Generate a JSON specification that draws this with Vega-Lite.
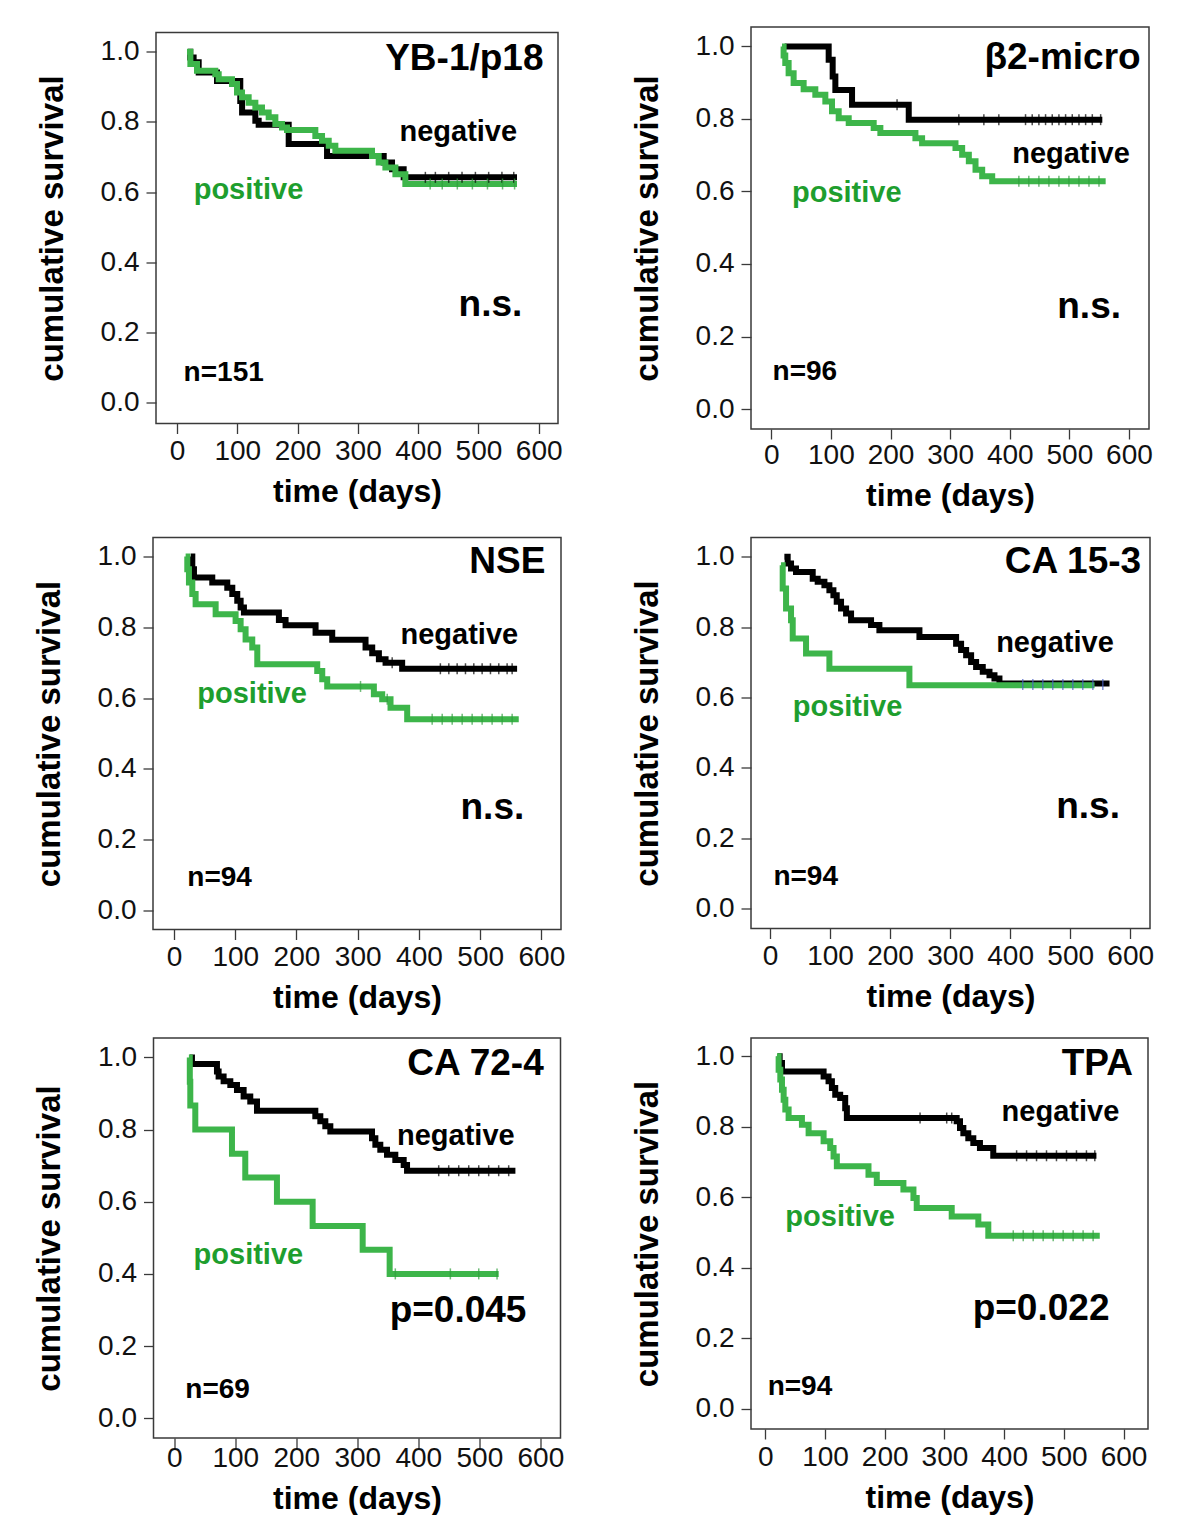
{
  "$schema": "https://vega.github.io/schema/vega-lite/v6.json",
  "background": "white",
  "padding": {"left": 32, "top": 26, "right": 0, "bottom": 0},
  "datasets": {
    "curves": [
      {"p":"YB-1/p18","g":"negative","t":18.3,"s":1.0},{"p":"YB-1/p18","g":"negative","t":22,"s":0.984},{"p":"YB-1/p18","g":"negative","t":27.6,"s":0.97},{"p":"YB-1/p18","g":"negative","t":36,"s":0.941},{"p":"YB-1/p18","g":"negative","t":66.4,"s":0.917},{"p":"YB-1/p18","g":"negative","t":105,"s":0.86},{"p":"YB-1/p18","g":"negative","t":108,"s":0.827},{"p":"YB-1/p18","g":"negative","t":130,"s":0.803},{"p":"YB-1/p18","g":"negative","t":135.5,"s":0.792},{"p":"YB-1/p18","g":"negative","t":185.3,"s":0.737},{"p":"YB-1/p18","g":"negative","t":248.9,"s":0.703},{"p":"YB-1/p18","g":"negative","t":342.9,"s":0.684},{"p":"YB-1/p18","g":"negative","t":356.7,"s":0.665},{"p":"YB-1/p18","g":"negative","t":376,"s":0.642},{"p":"YB-1/p18","g":"negative","t":564,"s":0.642},
      {"p":"YB-1/p18","g":"positive","t":16.6,"s":1.0},{"p":"YB-1/p18","g":"positive","t":22.2,"s":0.965},{"p":"YB-1/p18","g":"positive","t":33.2,"s":0.946},{"p":"YB-1/p18","g":"positive","t":63.6,"s":0.936},{"p":"YB-1/p18","g":"positive","t":69.2,"s":0.922},{"p":"YB-1/p18","g":"positive","t":91.3,"s":0.908},{"p":"YB-1/p18","g":"positive","t":99.6,"s":0.884},{"p":"YB-1/p18","g":"positive","t":107.9,"s":0.87},{"p":"YB-1/p18","g":"positive","t":118.9,"s":0.855},{"p":"YB-1/p18","g":"positive","t":130,"s":0.841},{"p":"YB-1/p18","g":"positive","t":141,"s":0.827},{"p":"YB-1/p18","g":"positive","t":152.1,"s":0.813},{"p":"YB-1/p18","g":"positive","t":163.2,"s":0.794},{"p":"YB-1/p18","g":"positive","t":174.2,"s":0.784},{"p":"YB-1/p18","g":"positive","t":182.5,"s":0.777},{"p":"YB-1/p18","g":"positive","t":229.5,"s":0.76},{"p":"YB-1/p18","g":"positive","t":240.6,"s":0.746},{"p":"YB-1/p18","g":"positive","t":251.7,"s":0.732},{"p":"YB-1/p18","g":"positive","t":262.7,"s":0.718},{"p":"YB-1/p18","g":"positive","t":323.5,"s":0.703},{"p":"YB-1/p18","g":"positive","t":334.6,"s":0.684},{"p":"YB-1/p18","g":"positive","t":345.7,"s":0.67},{"p":"YB-1/p18","g":"positive","t":362.3,"s":0.651},{"p":"YB-1/p18","g":"positive","t":378.8,"s":0.623},{"p":"YB-1/p18","g":"positive","t":564,"s":0.623},

      {"p":"b2","g":"negative","t":22.4,"s":1.0},{"p":"b2","g":"negative","t":96.3,"s":0.963},{"p":"b2","g":"negative","t":103,"s":0.917},{"p":"b2","g":"negative","t":107.5,"s":0.88},{"p":"b2","g":"negative","t":135.5,"s":0.839},{"p":"b2","g":"negative","t":230.6,"s":0.798},{"p":"b2","g":"negative","t":555.3,"s":0.798},
      {"p":"b2","g":"positive","t":18,"s":1.0},{"p":"b2","g":"positive","t":20.7,"s":0.975},{"p":"b2","g":"positive","t":23.5,"s":0.954},{"p":"b2","g":"positive","t":29.1,"s":0.926},{"p":"b2","g":"positive","t":37.5,"s":0.899},{"p":"b2","g":"positive","t":54.3,"s":0.882},{"p":"b2","g":"positive","t":73.9,"s":0.867},{"p":"b2","g":"positive","t":90.7,"s":0.848},{"p":"b2","g":"positive","t":101.9,"s":0.821},{"p":"b2","g":"positive","t":113.1,"s":0.802},{"p":"b2","g":"positive","t":129.9,"s":0.789},{"p":"b2","g":"positive","t":171.8,"s":0.775},{"p":"b2","g":"positive","t":183,"s":0.761},{"p":"b2","g":"positive","t":241.8,"s":0.747},{"p":"b2","g":"positive","t":253,"s":0.733},{"p":"b2","g":"positive","t":309,"s":0.72},{"p":"b2","g":"positive","t":320.2,"s":0.701},{"p":"b2","g":"positive","t":331.4,"s":0.683},{"p":"b2","g":"positive","t":342.6,"s":0.66},{"p":"b2","g":"positive","t":353.8,"s":0.642},{"p":"b2","g":"positive","t":370.6,"s":0.628},{"p":"b2","g":"positive","t":560.9,"s":0.628},

      {"p":"NSE","g":"negative","t":27.2,"s":1.0},{"p":"NSE","g":"negative","t":29.9,"s":0.964},{"p":"NSE","g":"negative","t":32.6,"s":0.941},{"p":"NSE","g":"negative","t":62.5,"s":0.927},{"p":"NSE","g":"negative","t":87,"s":0.912},{"p":"NSE","g":"negative","t":95.2,"s":0.894},{"p":"NSE","g":"negative","t":103.3,"s":0.875},{"p":"NSE","g":"negative","t":108.8,"s":0.856},{"p":"NSE","g":"negative","t":114.2,"s":0.842},{"p":"NSE","g":"negative","t":171.3,"s":0.821},{"p":"NSE","g":"negative","t":182.2,"s":0.806},{"p":"NSE","g":"negative","t":231.2,"s":0.785},{"p":"NSE","g":"negative","t":258.4,"s":0.765},{"p":"NSE","g":"negative","t":312.8,"s":0.743},{"p":"NSE","g":"negative","t":323.7,"s":0.727},{"p":"NSE","g":"negative","t":334.6,"s":0.71},{"p":"NSE","g":"negative","t":345.5,"s":0.7},{"p":"NSE","g":"negative","t":372.6,"s":0.683},{"p":"NSE","g":"negative","t":560.3,"s":0.683},
      {"p":"NSE","g":"positive","t":19,"s":1.0},{"p":"NSE","g":"positive","t":21.7,"s":0.964},{"p":"NSE","g":"positive","t":24.4,"s":0.927},{"p":"NSE","g":"positive","t":29.9,"s":0.894},{"p":"NSE","g":"positive","t":35.3,"s":0.865},{"p":"NSE","g":"positive","t":68,"s":0.837},{"p":"NSE","g":"positive","t":100.6,"s":0.818},{"p":"NSE","g":"positive","t":108.8,"s":0.795},{"p":"NSE","g":"positive","t":116.9,"s":0.766},{"p":"NSE","g":"positive","t":127.8,"s":0.743},{"p":"NSE","g":"positive","t":136,"s":0.696},{"p":"NSE","g":"positive","t":233.9,"s":0.677},{"p":"NSE","g":"positive","t":242.1,"s":0.653},{"p":"NSE","g":"positive","t":250.2,"s":0.633},{"p":"NSE","g":"positive","t":326.4,"s":0.611},{"p":"NSE","g":"positive","t":340,"s":0.597},{"p":"NSE","g":"positive","t":353.6,"s":0.573},{"p":"NSE","g":"positive","t":380.8,"s":0.54},{"p":"NSE","g":"positive","t":563,"s":0.54},

      {"p":"CA153","g":"negative","t":23.9,"s":1.0},{"p":"CA153","g":"negative","t":29.4,"s":0.981},{"p":"CA153","g":"negative","t":35,"s":0.967},{"p":"CA153","g":"negative","t":43.3,"s":0.957},{"p":"CA153","g":"negative","t":71.1,"s":0.938},{"p":"CA153","g":"negative","t":79.4,"s":0.929},{"p":"CA153","g":"negative","t":90.6,"s":0.919},{"p":"CA153","g":"negative","t":98.9,"s":0.905},{"p":"CA153","g":"negative","t":105.6,"s":0.891},{"p":"CA153","g":"negative","t":111.1,"s":0.872},{"p":"CA153","g":"negative","t":118.3,"s":0.853},{"p":"CA153","g":"negative","t":126.7,"s":0.839},{"p":"CA153","g":"negative","t":135,"s":0.82},{"p":"CA153","g":"negative","t":168.3,"s":0.806},{"p":"CA153","g":"negative","t":182.2,"s":0.791},{"p":"CA153","g":"negative","t":248.9,"s":0.772},{"p":"CA153","g":"negative","t":310,"s":0.753},{"p":"CA153","g":"negative","t":318.3,"s":0.735},{"p":"CA153","g":"negative","t":326.7,"s":0.72},{"p":"CA153","g":"negative","t":335,"s":0.701},{"p":"CA153","g":"negative","t":343.3,"s":0.687},{"p":"CA153","g":"negative","t":354.4,"s":0.673},{"p":"CA153","g":"negative","t":365.6,"s":0.663},{"p":"CA153","g":"negative","t":373.9,"s":0.654},{"p":"CA153","g":"negative","t":382.2,"s":0.64},{"p":"CA153","g":"negative","t":565.6,"s":0.64},
      {"p":"CA153","g":"positive","t":18.3,"s":0.976},{"p":"CA153","g":"positive","t":21.1,"s":0.91},{"p":"CA153","g":"positive","t":26.7,"s":0.853},{"p":"CA153","g":"positive","t":35,"s":0.82},{"p":"CA153","g":"positive","t":37.8,"s":0.768},{"p":"CA153","g":"positive","t":60,"s":0.725},{"p":"CA153","g":"positive","t":98.9,"s":0.682},{"p":"CA153","g":"positive","t":232.2,"s":0.635},{"p":"CA153","g":"positive","t":540.6,"s":0.635},

      {"p":"CA724","g":"negative","t":25.2,"s":1.0},{"p":"CA724","g":"negative","t":29,"s":0.982},{"p":"CA724","g":"negative","t":70,"s":0.961},{"p":"CA724","g":"negative","t":72.7,"s":0.947},{"p":"CA724","g":"negative","t":80.9,"s":0.934},{"p":"CA724","g":"negative","t":91.9,"s":0.924},{"p":"CA724","g":"negative","t":102.8,"s":0.91},{"p":"CA724","g":"negative","t":113.7,"s":0.892},{"p":"CA724","g":"negative","t":124.6,"s":0.878},{"p":"CA724","g":"negative","t":135.6,"s":0.852},{"p":"CA724","g":"negative","t":231.2,"s":0.837},{"p":"CA724","g":"negative","t":239.4,"s":0.823},{"p":"CA724","g":"negative","t":247.6,"s":0.809},{"p":"CA724","g":"negative","t":255.8,"s":0.795},{"p":"CA724","g":"negative","t":324.1,"s":0.776},{"p":"CA724","g":"negative","t":329.6,"s":0.758},{"p":"CA724","g":"negative","t":337.7,"s":0.744},{"p":"CA724","g":"negative","t":348.7,"s":0.73},{"p":"CA724","g":"negative","t":362.3,"s":0.716},{"p":"CA724","g":"negative","t":376,"s":0.702},{"p":"CA724","g":"negative","t":381.5,"s":0.686},{"p":"CA724","g":"negative","t":559.1,"s":0.686},
      {"p":"CA724","g":"positive","t":24,"s":1.0},{"p":"CA724","g":"positive","t":25.5,"s":0.933},{"p":"CA724","g":"positive","t":26.3,"s":0.867},{"p":"CA724","g":"positive","t":34.5,"s":0.8},{"p":"CA724","g":"positive","t":94.6,"s":0.733},{"p":"CA724","g":"positive","t":116.4,"s":0.667},{"p":"CA724","g":"positive","t":168.3,"s":0.6},{"p":"CA724","g":"positive","t":226.8,"s":0.533},{"p":"CA724","g":"positive","t":308.8,"s":0.467},{"p":"CA724","g":"positive","t":353,"s":0.4},{"p":"CA724","g":"positive","t":531.7,"s":0.4},

      {"p":"TPA","g":"negative","t":20.6,"s":1.0},{"p":"TPA","g":"negative","t":24,"s":0.981},{"p":"TPA","g":"negative","t":27.9,"s":0.957},{"p":"TPA","g":"negative","t":97.6,"s":0.943},{"p":"TPA","g":"negative","t":105.9,"s":0.929},{"p":"TPA","g":"negative","t":111.5,"s":0.91},{"p":"TPA","g":"negative","t":117.1,"s":0.891},{"p":"TPA","g":"negative","t":125.4,"s":0.882},{"p":"TPA","g":"negative","t":133.8,"s":0.853},{"p":"TPA","g":"negative","t":136.6,"s":0.825},{"p":"TPA","g":"negative","t":320.5,"s":0.816},{"p":"TPA","g":"negative","t":326.1,"s":0.797},{"p":"TPA","g":"negative","t":331.7,"s":0.782},{"p":"TPA","g":"negative","t":340,"s":0.768},{"p":"TPA","g":"negative","t":348.4,"s":0.754},{"p":"TPA","g":"negative","t":359.5,"s":0.74},{"p":"TPA","g":"negative","t":381.8,"s":0.718},{"p":"TPA","g":"negative","t":554.6,"s":0.718},
      {"p":"TPA","g":"positive","t":19.5,"s":1.0},{"p":"TPA","g":"positive","t":22.3,"s":0.962},{"p":"TPA","g":"positive","t":25.1,"s":0.934},{"p":"TPA","g":"positive","t":27.9,"s":0.905},{"p":"TPA","g":"positive","t":30.7,"s":0.877},{"p":"TPA","g":"positive","t":33.5,"s":0.849},{"p":"TPA","g":"positive","t":39,"s":0.825},{"p":"TPA","g":"positive","t":61.3,"s":0.806},{"p":"TPA","g":"positive","t":72.5,"s":0.782},{"p":"TPA","g":"positive","t":97.6,"s":0.759},{"p":"TPA","g":"positive","t":108.7,"s":0.74},{"p":"TPA","g":"positive","t":114.3,"s":0.716},{"p":"TPA","g":"positive","t":119.8,"s":0.688},{"p":"TPA","g":"positive","t":172.8,"s":0.664},{"p":"TPA","g":"positive","t":186.7,"s":0.641},{"p":"TPA","g":"positive","t":231.3,"s":0.622},{"p":"TPA","g":"positive","t":248.1,"s":0.598},{"p":"TPA","g":"positive","t":253.6,"s":0.57},{"p":"TPA","g":"positive","t":312.2,"s":0.546},{"p":"TPA","g":"positive","t":356.8,"s":0.523},{"p":"TPA","g":"positive","t":373.5,"s":0.491},{"p":"TPA","g":"positive","t":560.2,"s":0.491}
    ],
    "censor": [
      {"p":"YB-1/p18","g":"negative","t":412,"s":0.642},{"p":"YB-1/p18","g":"negative","t":428.6,"s":0.642},{"p":"YB-1/p18","g":"negative","t":450.7,"s":0.642},{"p":"YB-1/p18","g":"negative","t":472.8,"s":0.642},{"p":"YB-1/p18","g":"negative","t":495,"s":0.642},{"p":"YB-1/p18","g":"negative","t":517,"s":0.642},{"p":"YB-1/p18","g":"negative","t":539,"s":0.642},{"p":"YB-1/p18","g":"negative","t":558.6,"s":0.642},
      {"p":"YB-1/p18","g":"positive","t":420,"s":0.623},{"p":"YB-1/p18","g":"positive","t":440,"s":0.623},{"p":"YB-1/p18","g":"positive","t":465,"s":0.623},{"p":"YB-1/p18","g":"positive","t":490,"s":0.623},{"p":"YB-1/p18","g":"positive","t":515,"s":0.623},{"p":"YB-1/p18","g":"positive","t":540,"s":0.623},{"p":"YB-1/p18","g":"positive","t":560,"s":0.623},
      {"p":"b2","g":"negative","t":211,"s":0.839},{"p":"b2","g":"negative","t":314.6,"s":0.798},{"p":"b2","g":"negative","t":356.6,"s":0.798},{"p":"b2","g":"negative","t":381.7,"s":0.798},{"p":"b2","g":"negative","t":426.5,"s":0.798},{"p":"b2","g":"negative","t":437.7,"s":0.798},{"p":"b2","g":"negative","t":448.9,"s":0.798},{"p":"b2","g":"negative","t":460.1,"s":0.798},{"p":"b2","g":"negative","t":471.3,"s":0.798},{"p":"b2","g":"negative","t":482.5,"s":0.798},{"p":"b2","g":"negative","t":493.7,"s":0.798},{"p":"b2","g":"negative","t":504.9,"s":0.798},{"p":"b2","g":"negative","t":516.1,"s":0.798},{"p":"b2","g":"negative","t":527.3,"s":0.798},{"p":"b2","g":"negative","t":538.5,"s":0.798},{"p":"b2","g":"negative","t":552.5,"s":0.798},
      {"p":"b2","g":"positive","t":415.3,"s":0.628},{"p":"b2","g":"positive","t":432,"s":0.628},{"p":"b2","g":"positive","t":448.9,"s":0.628},{"p":"b2","g":"positive","t":465.7,"s":0.628},{"p":"b2","g":"positive","t":482.5,"s":0.628},{"p":"b2","g":"positive","t":499.3,"s":0.628},{"p":"b2","g":"positive","t":516.1,"s":0.628},{"p":"b2","g":"positive","t":532.9,"s":0.628},{"p":"b2","g":"positive","t":549.7,"s":0.628},
      {"p":"NSE","g":"negative","t":356.3,"s":0.7},{"p":"NSE","g":"negative","t":435,"s":0.683},{"p":"NSE","g":"negative","t":448.8,"s":0.683},{"p":"NSE","g":"negative","t":462.4,"s":0.683},{"p":"NSE","g":"negative","t":476,"s":0.683},{"p":"NSE","g":"negative","t":489.6,"s":0.683},{"p":"NSE","g":"negative","t":503.2,"s":0.683},{"p":"NSE","g":"negative","t":516.8,"s":0.683},{"p":"NSE","g":"negative","t":530.4,"s":0.683},{"p":"NSE","g":"negative","t":544,"s":0.683},{"p":"NSE","g":"negative","t":552.2,"s":0.683},
      {"p":"NSE","g":"positive","t":304.6,"s":0.633},{"p":"NSE","g":"positive","t":348.2,"s":0.597},{"p":"NSE","g":"positive","t":421.6,"s":0.54},{"p":"NSE","g":"positive","t":438,"s":0.54},{"p":"NSE","g":"positive","t":454.3,"s":0.54},{"p":"NSE","g":"positive","t":470.6,"s":0.54},{"p":"NSE","g":"positive","t":486.9,"s":0.54},{"p":"NSE","g":"positive","t":503.2,"s":0.54},{"p":"NSE","g":"positive","t":519.5,"s":0.54},{"p":"NSE","g":"positive","t":535.9,"s":0.54},{"p":"NSE","g":"positive","t":552.2,"s":0.54},
      {"p":"CA153","g":"other","t":421,"s":0.637},{"p":"CA153","g":"other","t":437.8,"s":0.637},{"p":"CA153","g":"other","t":454.4,"s":0.637},{"p":"CA153","g":"other","t":471,"s":0.637},{"p":"CA153","g":"other","t":487.8,"s":0.637},{"p":"CA153","g":"other","t":504.4,"s":0.637},{"p":"CA153","g":"other","t":521,"s":0.637},{"p":"CA153","g":"other","t":537.8,"s":0.637},{"p":"CA153","g":"other","t":554.4,"s":0.637},
      {"p":"CA724","g":"negative","t":433.4,"s":0.686},{"p":"CA724","g":"negative","t":449.8,"s":0.686},{"p":"CA724","g":"negative","t":466.2,"s":0.686},{"p":"CA724","g":"negative","t":482.6,"s":0.686},{"p":"CA724","g":"negative","t":499,"s":0.686},{"p":"CA724","g":"negative","t":515.3,"s":0.686},{"p":"CA724","g":"negative","t":531.7,"s":0.686},{"p":"CA724","g":"negative","t":548.1,"s":0.686},
      {"p":"CA724","g":"positive","t":362.3,"s":0.4},{"p":"CA724","g":"positive","t":452.5,"s":0.4},{"p":"CA724","g":"positive","t":499,"s":0.4},{"p":"CA724","g":"positive","t":529,"s":0.4},
      {"p":"TPA","g":"negative","t":259.2,"s":0.825},{"p":"TPA","g":"negative","t":303.8,"s":0.825},{"p":"TPA","g":"negative","t":312.2,"s":0.825},{"p":"TPA","g":"negative","t":420.9,"s":0.718},{"p":"TPA","g":"negative","t":437.6,"s":0.718},{"p":"TPA","g":"negative","t":454.3,"s":0.718},{"p":"TPA","g":"negative","t":471,"s":0.718},{"p":"TPA","g":"negative","t":487.7,"s":0.718},{"p":"TPA","g":"negative","t":504.5,"s":0.718},{"p":"TPA","g":"negative","t":521.2,"s":0.718},{"p":"TPA","g":"negative","t":537.9,"s":0.718},{"p":"TPA","g":"negative","t":551.9,"s":0.718},
      {"p":"TPA","g":"positive","t":415.3,"s":0.491},{"p":"TPA","g":"positive","t":432,"s":0.491},{"p":"TPA","g":"positive","t":448.7,"s":0.491},{"p":"TPA","g":"positive","t":465.4,"s":0.491},{"p":"TPA","g":"positive","t":482.2,"s":0.491},{"p":"TPA","g":"positive","t":498.9,"s":0.491},{"p":"TPA","g":"positive","t":515.6,"s":0.491},{"p":"TPA","g":"positive","t":532.3,"s":0.491},{"p":"TPA","g":"positive","t":549.1,"s":0.491}
    ],
    "labels": [
      {"p":"YB-1/p18","k":"title","text":"YB-1/p18","t":608,"s":0.949},
      {"p":"YB-1/p18","k":"neg","text":"negative","t":369,"s":0.746},
      {"p":"YB-1/p18","k":"pos","text":"positive","t":27.7,"s":0.58},
      {"p":"YB-1/p18","k":"stat","text":"n.s.","t":467,"s":0.247},
      {"p":"YB-1/p18","k":"n","text":"n=151","t":11,"s":0.062},
      {"p":"b2","k":"title","text":"β2-micro","t":619.6,"s":0.938},
      {"p":"b2","k":"neg","text":"negative","t":404.1,"s":0.678},
      {"p":"b2","k":"pos","text":"positive","t":34.7,"s":0.57},
      {"p":"b2","k":"stat","text":"n.s.","t":479.7,"s":0.251},
      {"p":"b2","k":"n","text":"n=96","t":2.2,"s":0.081},
      {"p":"NSE","k":"title","text":"NSE","t":606.6,"s":0.953},
      {"p":"NSE","k":"neg","text":"negative","t":369.9,"s":0.754},
      {"p":"NSE","k":"pos","text":"positive","t":38,"s":0.585},
      {"p":"NSE","k":"stat","text":"n.s.","t":467.9,"s":0.257},
      {"p":"NSE","k":"n","text":"n=94","t":21.7,"s":0.069},
      {"p":"CA153","k":"title","text":"CA 15-3","t":618.3,"s":0.955},
      {"p":"CA153","k":"neg","text":"negative","t":376.7,"s":0.73},
      {"p":"CA153","k":"pos","text":"positive","t":37.8,"s":0.547},
      {"p":"CA153","k":"stat","text":"n.s.","t":476.7,"s":0.256},
      {"p":"CA153","k":"n","text":"n=94","t":5.6,"s":0.066},
      {"p":"CA724","k":"title","text":"CA 72-4","t":605.5,"s":0.952},
      {"p":"CA724","k":"neg","text":"negative","t":365.1,"s":0.758},
      {"p":"CA724","k":"pos","text":"positive","t":31.7,"s":0.427},
      {"p":"CA724","k":"stat","text":"p=0.045","t":353,"s":0.266},
      {"p":"CA724","k":"n","text":"n=69","t":18.1,"s":0.057},
      {"p":"TPA","k":"title","text":"TPA","t":615.9,"s":0.948},
      {"p":"TPA","k":"neg","text":"negative","t":395.8,"s":0.816},
      {"p":"TPA","k":"pos","text":"positive","t":33.5,"s":0.52},
      {"p":"TPA","k":"stat","text":"p=0.022","t":347.3,"s":0.251},
      {"p":"TPA","k":"n","text":"n=94","t":3.9,"s":0.04}
    ]
  },
  "columns": 2,
  "spacing": {"row": 108.5, "column": 190},
  "bounds": "flush",
  "center": true,
  "concat": [
    {
      "width": 402, "height": 391,
      "encoding": {
        "x": {"field": "t", "type": "quantitative", "scale": {"domain": [-34.8, 632], "nice": false, "zero": false}, "axis": {"values": [0,100,200,300,400,500,600], "title": "time (days)"}},
        "y": {"field": "s", "type": "quantitative", "scale": {"domain": [-0.06, 1.055], "nice": false, "zero": false}, "axis": {"values": [0,0.2,0.4,0.6,0.8,1], "format": ".1f", "title": "cumulative survival"}}
      },
      "layer": [
        {"data": {"name": "curves"}, "transform": [{"filter": "datum.p === 'YB-1/p18' && datum.g === 'negative'"}], "mark": {"type": "line", "color": "#000000"}, "encoding": {}},
        {"data": {"name": "curves"}, "transform": [{"filter": "datum.p === 'YB-1/p18' && datum.g === 'positive'"}], "mark": {"type": "line", "color": "#3db54a"}, "encoding": {}},
        {"data": {"name": "censor"}, "transform": [{"filter": "datum.p === 'YB-1/p18'"}], "mark": {"type": "tick"}, "encoding": {"color": {"field": "g", "type": "nominal", "scale": {"domain": ["negative","positive","other"], "range": ["#000000","#2f9e3c","#4b63c8"]}, "legend": null}}},
        {"data": {"name": "labels"}, "transform": [{"filter": "datum.p === 'YB-1/p18' && datum.k === 'title'"}], "mark": {"type": "text", "fontSize": 37, "align": "right"}, "encoding": {"text": {"field": "text"}}},
        {"data": {"name": "labels"}, "transform": [{"filter": "datum.p === 'YB-1/p18' && datum.k === 'neg'"}], "mark": {"type": "text", "fontSize": 29}, "encoding": {"text": {"field": "text"}}},
        {"data": {"name": "labels"}, "transform": [{"filter": "datum.p === 'YB-1/p18' && datum.k === 'pos'"}], "mark": {"type": "text", "fontSize": 29, "color": "#1e9e2e"}, "encoding": {"text": {"field": "text"}}},
        {"data": {"name": "labels"}, "transform": [{"filter": "datum.p === 'YB-1/p18' && datum.k === 'stat'"}], "mark": {"type": "text", "fontSize": 37}, "encoding": {"text": {"field": "text"}}},
        {"data": {"name": "labels"}, "transform": [{"filter": "datum.p === 'YB-1/p18' && datum.k === 'n'"}], "mark": {"type": "text", "fontSize": 28}, "encoding": {"text": {"field": "text"}}}
      ]
    },
    {
      "width": 398, "height": 402,
      "encoding": {
        "x": {"field": "t", "type": "quantitative", "scale": {"domain": [-34, 633.6], "nice": false, "zero": false}, "axis": {"values": [0,100,200,300,400,500,600], "title": "time (days)", "labelPadding": 2}},
        "y": {"field": "s", "type": "quantitative", "scale": {"domain": [-0.055, 1.0535], "nice": false, "zero": false}, "axis": {"values": [0,0.2,0.4,0.6,0.8,1], "format": ".1f", "title": "cumulative survival"}}
      },
      "layer": [
        {"data": {"name": "curves"}, "transform": [{"filter": "datum.p === 'b2' && datum.g === 'negative'"}], "mark": {"type": "line", "color": "#000000"}, "encoding": {}},
        {"data": {"name": "curves"}, "transform": [{"filter": "datum.p === 'b2' && datum.g === 'positive'"}], "mark": {"type": "line", "color": "#3db54a"}, "encoding": {}},
        {"data": {"name": "censor"}, "transform": [{"filter": "datum.p === 'b2'"}], "mark": {"type": "tick"}, "encoding": {"color": {"field": "g", "type": "nominal", "scale": {"domain": ["negative","positive","other"], "range": ["#000000","#2f9e3c","#4b63c8"]}, "legend": null}}},
        {"data": {"name": "labels"}, "transform": [{"filter": "datum.p === 'b2' && datum.k === 'title'"}], "mark": {"type": "text", "fontSize": 37, "align": "right"}, "encoding": {"text": {"field": "text"}}},
        {"data": {"name": "labels"}, "transform": [{"filter": "datum.p === 'b2' && datum.k === 'neg'"}], "mark": {"type": "text", "fontSize": 29}, "encoding": {"text": {"field": "text"}}},
        {"data": {"name": "labels"}, "transform": [{"filter": "datum.p === 'b2' && datum.k === 'pos'"}], "mark": {"type": "text", "fontSize": 29, "color": "#1e9e2e"}, "encoding": {"text": {"field": "text"}}},
        {"data": {"name": "labels"}, "transform": [{"filter": "datum.p === 'b2' && datum.k === 'stat'"}], "mark": {"type": "text", "fontSize": 37}, "encoding": {"text": {"field": "text"}}},
        {"data": {"name": "labels"}, "transform": [{"filter": "datum.p === 'b2' && datum.k === 'n'"}], "mark": {"type": "text", "fontSize": 28}, "encoding": {"text": {"field": "text"}}}
      ]
    },
    {
      "width": 408, "height": 392,
      "encoding": {
        "x": {"field": "t", "type": "quantitative", "scale": {"domain": [-34.3, 632], "nice": false, "zero": false}, "axis": {"values": [0,100,200,300,400,500,600], "title": "time (days)"}},
        "y": {"field": "s", "type": "quantitative", "scale": {"domain": [-0.054, 1.054], "nice": false, "zero": false}, "axis": {"values": [0,0.2,0.4,0.6,0.8,1], "format": ".1f", "title": "cumulative survival"}}
      },
      "layer": [
        {"data": {"name": "curves"}, "transform": [{"filter": "datum.p === 'NSE' && datum.g === 'negative'"}], "mark": {"type": "line", "color": "#000000"}, "encoding": {}},
        {"data": {"name": "curves"}, "transform": [{"filter": "datum.p === 'NSE' && datum.g === 'positive'"}], "mark": {"type": "line", "color": "#3db54a"}, "encoding": {}},
        {"data": {"name": "censor"}, "transform": [{"filter": "datum.p === 'NSE'"}], "mark": {"type": "tick"}, "encoding": {"color": {"field": "g", "type": "nominal", "scale": {"domain": ["negative","positive","other"], "range": ["#000000","#2f9e3c","#4b63c8"]}, "legend": null}}},
        {"data": {"name": "labels"}, "transform": [{"filter": "datum.p === 'NSE' && datum.k === 'title'"}], "mark": {"type": "text", "fontSize": 37, "align": "right"}, "encoding": {"text": {"field": "text"}}},
        {"data": {"name": "labels"}, "transform": [{"filter": "datum.p === 'NSE' && datum.k === 'neg'"}], "mark": {"type": "text", "fontSize": 29}, "encoding": {"text": {"field": "text"}}},
        {"data": {"name": "labels"}, "transform": [{"filter": "datum.p === 'NSE' && datum.k === 'pos'"}], "mark": {"type": "text", "fontSize": 29, "color": "#1e9e2e"}, "encoding": {"text": {"field": "text"}}},
        {"data": {"name": "labels"}, "transform": [{"filter": "datum.p === 'NSE' && datum.k === 'stat'"}], "mark": {"type": "text", "fontSize": 37}, "encoding": {"text": {"field": "text"}}},
        {"data": {"name": "labels"}, "transform": [{"filter": "datum.p === 'NSE' && datum.k === 'n'"}], "mark": {"type": "text", "fontSize": 28}, "encoding": {"text": {"field": "text"}}}
      ]
    },
    {
      "width": 399, "height": 391,
      "encoding": {
        "x": {"field": "t", "type": "quantitative", "scale": {"domain": [-31.7, 633], "nice": false, "zero": false}, "axis": {"values": [0,100,200,300,400,500,600], "title": "time (days)"}},
        "y": {"field": "s", "type": "quantitative", "scale": {"domain": [-0.057, 1.055], "nice": false, "zero": false}, "axis": {"values": [0,0.2,0.4,0.6,0.8,1], "format": ".1f", "title": "cumulative survival"}}
      },
      "layer": [
        {"data": {"name": "curves"}, "transform": [{"filter": "datum.p === 'CA153' && datum.g === 'negative'"}], "mark": {"type": "line", "color": "#000000"}, "encoding": {}},
        {"data": {"name": "curves"}, "transform": [{"filter": "datum.p === 'CA153' && datum.g === 'positive'"}], "mark": {"type": "line", "color": "#3db54a"}, "encoding": {}},
        {"data": {"name": "censor"}, "transform": [{"filter": "datum.p === 'CA153'"}], "mark": {"type": "tick"}, "encoding": {"color": {"field": "g", "type": "nominal", "scale": {"domain": ["negative","positive","other"], "range": ["#000000","#2f9e3c","#4b63c8"]}, "legend": null}}},
        {"data": {"name": "labels"}, "transform": [{"filter": "datum.p === 'CA153' && datum.k === 'title'"}], "mark": {"type": "text", "fontSize": 37, "align": "right"}, "encoding": {"text": {"field": "text"}}},
        {"data": {"name": "labels"}, "transform": [{"filter": "datum.p === 'CA153' && datum.k === 'neg'"}], "mark": {"type": "text", "fontSize": 29}, "encoding": {"text": {"field": "text"}}},
        {"data": {"name": "labels"}, "transform": [{"filter": "datum.p === 'CA153' && datum.k === 'pos'"}], "mark": {"type": "text", "fontSize": 29, "color": "#1e9e2e"}, "encoding": {"text": {"field": "text"}}},
        {"data": {"name": "labels"}, "transform": [{"filter": "datum.p === 'CA153' && datum.k === 'stat'"}], "mark": {"type": "text", "fontSize": 37}, "encoding": {"text": {"field": "text"}}},
        {"data": {"name": "labels"}, "transform": [{"filter": "datum.p === 'CA153' && datum.k === 'n'"}], "mark": {"type": "text", "fontSize": 28}, "encoding": {"text": {"field": "text"}}}
      ]
    },
    {
      "width": 407, "height": 400,
      "encoding": {
        "x": {"field": "t", "type": "quantitative", "scale": {"domain": [-34, 633], "nice": false, "zero": false}, "axis": {"values": [0,100,200,300,400,500,600], "title": "time (days)", "labelPadding": -4}},
        "y": {"field": "s", "type": "quantitative", "scale": {"domain": [-0.055, 1.054], "nice": false, "zero": false}, "axis": {"values": [0,0.2,0.4,0.6,0.8,1], "format": ".1f", "title": "cumulative survival"}}
      },
      "layer": [
        {"data": {"name": "curves"}, "transform": [{"filter": "datum.p === 'CA724' && datum.g === 'negative'"}], "mark": {"type": "line", "color": "#000000"}, "encoding": {}},
        {"data": {"name": "curves"}, "transform": [{"filter": "datum.p === 'CA724' && datum.g === 'positive'"}], "mark": {"type": "line", "color": "#3db54a"}, "encoding": {}},
        {"data": {"name": "censor"}, "transform": [{"filter": "datum.p === 'CA724'"}], "mark": {"type": "tick"}, "encoding": {"color": {"field": "g", "type": "nominal", "scale": {"domain": ["negative","positive","other"], "range": ["#000000","#2f9e3c","#4b63c8"]}, "legend": null}}},
        {"data": {"name": "labels"}, "transform": [{"filter": "datum.p === 'CA724' && datum.k === 'title'"}], "mark": {"type": "text", "fontSize": 37, "align": "right"}, "encoding": {"text": {"field": "text"}}},
        {"data": {"name": "labels"}, "transform": [{"filter": "datum.p === 'CA724' && datum.k === 'neg'"}], "mark": {"type": "text", "fontSize": 29}, "encoding": {"text": {"field": "text"}}},
        {"data": {"name": "labels"}, "transform": [{"filter": "datum.p === 'CA724' && datum.k === 'pos'"}], "mark": {"type": "text", "fontSize": 29, "color": "#1e9e2e"}, "encoding": {"text": {"field": "text"}}},
        {"data": {"name": "labels"}, "transform": [{"filter": "datum.p === 'CA724' && datum.k === 'stat'"}], "mark": {"type": "text", "fontSize": 37}, "encoding": {"text": {"field": "text"}}},
        {"data": {"name": "labels"}, "transform": [{"filter": "datum.p === 'CA724' && datum.k === 'n'"}], "mark": {"type": "text", "fontSize": 28}, "encoding": {"text": {"field": "text"}}}
      ]
    },
    {
      "width": 397, "height": 391,
      "encoding": {
        "x": {"field": "t", "type": "quantitative", "scale": {"domain": [-24, 641], "nice": false, "zero": false}, "axis": {"values": [0,100,200,300,400,500,600], "title": "time (days)"}},
        "y": {"field": "s", "type": "quantitative", "scale": {"domain": [-0.057, 1.052], "nice": false, "zero": false}, "axis": {"values": [0,0.2,0.4,0.6,0.8,1], "format": ".1f", "title": "cumulative survival"}}
      },
      "layer": [
        {"data": {"name": "curves"}, "transform": [{"filter": "datum.p === 'TPA' && datum.g === 'negative'"}], "mark": {"type": "line", "color": "#000000"}, "encoding": {}},
        {"data": {"name": "curves"}, "transform": [{"filter": "datum.p === 'TPA' && datum.g === 'positive'"}], "mark": {"type": "line", "color": "#3db54a"}, "encoding": {}},
        {"data": {"name": "censor"}, "transform": [{"filter": "datum.p === 'TPA'"}], "mark": {"type": "tick"}, "encoding": {"color": {"field": "g", "type": "nominal", "scale": {"domain": ["negative","positive","other"], "range": ["#000000","#2f9e3c","#4b63c8"]}, "legend": null}}},
        {"data": {"name": "labels"}, "transform": [{"filter": "datum.p === 'TPA' && datum.k === 'title'"}], "mark": {"type": "text", "fontSize": 37, "align": "right"}, "encoding": {"text": {"field": "text"}}},
        {"data": {"name": "labels"}, "transform": [{"filter": "datum.p === 'TPA' && datum.k === 'neg'"}], "mark": {"type": "text", "fontSize": 29}, "encoding": {"text": {"field": "text"}}},
        {"data": {"name": "labels"}, "transform": [{"filter": "datum.p === 'TPA' && datum.k === 'pos'"}], "mark": {"type": "text", "fontSize": 29, "color": "#1e9e2e"}, "encoding": {"text": {"field": "text"}}},
        {"data": {"name": "labels"}, "transform": [{"filter": "datum.p === 'TPA' && datum.k === 'stat'"}], "mark": {"type": "text", "fontSize": 37}, "encoding": {"text": {"field": "text"}}},
        {"data": {"name": "labels"}, "transform": [{"filter": "datum.p === 'TPA' && datum.k === 'n'"}], "mark": {"type": "text", "fontSize": 28}, "encoding": {"text": {"field": "text"}}}
      ]
    }
  ],
  "config": {
    "view": {"stroke": "#3a3a3a", "strokeWidth": 1.5},
    "line": {"interpolate": "step-after", "strokeWidth": 6},
    "tick": {"orient": "vertical", "size": 11, "thickness": 1.5},
    "text": {"font": "Liberation Sans", "fontWeight": "bold", "baseline": "alphabetic", "align": "left", "color": "#000000"},
    "axis": {"grid": false, "domain": false, "tickColor": "#3a3a3a", "tickSize": 10, "tickWidth": 1.3, "labelFont": "Liberation Sans", "labelFontSize": 28, "labelColor": "#111111", "labelFlush": false, "labelOverlap": false, "titleFont": "Liberation Sans", "titleFontSize": 33, "titleFontWeight": "bold", "titleColor": "#000000"},
    "axisX": {"labelPadding": 4, "titlePadding": 11, "titleFontSize": 32},
    "axisY": {"labelPadding": 7, "titlePadding": 31}
  }
}
